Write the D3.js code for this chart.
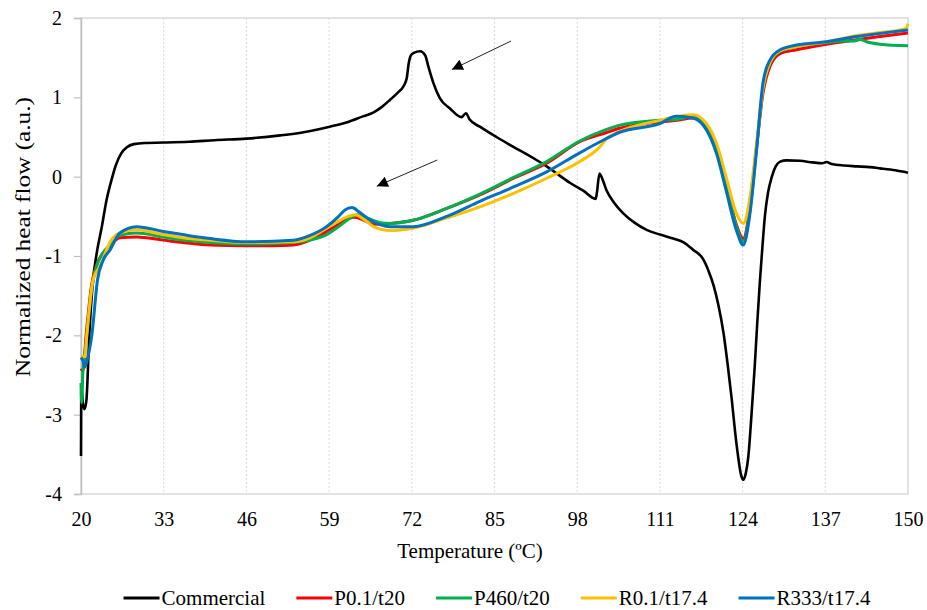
<!DOCTYPE html>
<html>
<head>
<meta charset="utf-8">
<script src="https://cdn.jsdelivr.net/npm/d3@7"></script>
<style>
  body { margin: 0; background: #fff; }
  svg text { font-family: "Liberation Serif", "Times New Roman", serif; fill: #000; }
</style>
</head>
<body>
<svg id="chart"></svg>
<script>
// x ticks and y ticks
const tempTicks = [20, 33, 46, 59, 72, 85, 98, 111, 124, 137, 150];
const flowTicks = [-4, -3, -2, -1, 0, 1, 2];

// [temperature, normalized heat flow]
const commercial = [[20.0,-3.52],[20.05,-2.65],[20.3,-2.86],[20.55,-2.93],[20.85,-2.82],[21.3,-2.0],[21.9,-1.3],[22.5,-0.95],[23.3,-0.62],[24.0,-0.3],[24.8,-0.04],[25.5,0.15],[26.3,0.29],[27.2,0.37],[28.3,0.41],[30,0.425],[33,0.43],[37,0.44],[41,0.46],[46,0.48],[51.3,0.52],[55,0.56],[59.1,0.63],[62,0.69],[64.3,0.76],[66,0.81],[67.3,0.88],[68.6,0.97],[69.8,1.06],[70.7,1.14],[71.2,1.24],[71.5,1.42],[71.8,1.52],[72.3,1.56],[73.3,1.58],[74.1,1.53],[74.6,1.39],[75.4,1.18],[76.4,0.99],[78,0.86],[79.8,0.75],[80.5,0.80],[81.1,0.72],[82.7,0.63],[85.3,0.50],[87.9,0.38],[91.6,0.21],[93.2,0.13],[96.9,-0.08],[99,-0.18],[100.9,-0.28],[101.1,-0.2],[101.5,0.04],[101.8,0.0],[102.6,-0.17],[103.8,-0.33],[105.2,-0.46],[107,-0.58],[108.9,-0.67],[111,-0.73],[113.1,-0.78],[114.8,-0.83],[116.2,-0.92],[117.8,-1.04],[118.7,-1.2],[119.4,-1.36],[120.2,-1.62],[121.0,-1.97],[121.7,-2.4],[122.3,-2.81],[122.8,-3.2],[123.3,-3.53],[123.7,-3.74],[124.1,-3.82],[124.5,-3.74],[124.9,-3.53],[125.4,-3.0],[125.9,-2.4],[126.3,-1.85],[126.7,-1.34],[127.1,-0.9],[127.5,-0.5],[128,-0.2],[128.6,0.0],[129.2,0.13],[129.9,0.19],[130.9,0.205],[133,0.2],[135,0.18],[136.5,0.17],[137.2,0.185],[138,0.16],[140,0.14],[142,0.13],[144,0.12],[145.6,0.105],[148,0.08],[150,0.05]];

const p01t20 = [[20,-2.42],[20.3,-2.45],[20.8,-2.0],[21.7,-1.35],[22.5,-1.1],[23.3,-0.98],[24.6,-0.86],[26.1,-0.77],[28.7,-0.76],[32.9,-0.80],[36,-0.83],[40.3,-0.86],[46,-0.87],[50,-0.87],[53.4,-0.86],[56,-0.80],[58.6,-0.69],[60.5,-0.6],[62,-0.53],[63.1,-0.51],[64.5,-0.55],[66,-0.6],[68.6,-0.59],[72.2,-0.55],[77.5,-0.40],[82.7,-0.23],[88,-0.02],[93.2,0.17],[98.4,0.44],[102.4,0.55],[104.7,0.61],[111,0.69],[113.6,0.71],[116.2,0.74],[118.3,0.62],[119.9,0.36],[121.4,-0.08],[123,-0.6],[124.1,-0.78],[125.1,-0.42],[126.2,0.38],[127.2,1.05],[128.3,1.39],[129.9,1.55],[132.5,1.60],[137.2,1.67],[141.4,1.72],[145,1.76],[150,1.81]];

const p460t20 = [[20,-2.6],[20.1,-2.85],[20.3,-2.45],[20.8,-2.1],[21.7,-1.4],[22.5,-1.12],[23.3,-0.98],[24.6,-0.87],[26.1,-0.74],[28.7,-0.71],[32.9,-0.76],[36,-0.8],[40.3,-0.83],[46,-0.85],[53.4,-0.83],[56,-0.8],[58.6,-0.73],[60.5,-0.63],[62,-0.54],[63.5,-0.48],[65,-0.52],[67,-0.58],[68.6,-0.59],[72.2,-0.55],[77.5,-0.40],[82.7,-0.22],[88,-0.01],[93.2,0.19],[98.4,0.45],[102.4,0.59],[104.7,0.65],[111,0.71],[113.6,0.72],[116.2,0.76],[118.3,0.63],[119.9,0.36],[121.4,-0.1],[123,-0.62],[124.1,-0.82],[125.1,-0.45],[126.2,0.36],[127.2,1.1],[128.3,1.43],[129.9,1.58],[132.5,1.64],[137.2,1.69],[140,1.71],[141.4,1.71],[142.5,1.73],[143.5,1.70],[145.6,1.67],[150,1.65]];

const r01t174 = [[20,-2.27],[20.6,-2.27],[20.9,-2.0],[21.9,-1.3],[23,-1.13],[24.6,-0.82],[26.1,-0.71],[28.7,-0.67],[32.9,-0.73],[36,-0.77],[40.3,-0.80],[46,-0.83],[53.4,-0.82],[56,-0.77],[58.6,-0.65],[60.5,-0.56],[62,-0.5],[63.1,-0.48],[64.5,-0.54],[66,-0.63],[68.6,-0.68],[72.2,-0.65],[77.5,-0.52],[82.7,-0.38],[88,-0.21],[93.2,-0.02],[98.4,0.19],[101.6,0.38],[102.4,0.46],[104.7,0.57],[111,0.71],[113.6,0.76],[116.2,0.78],[118.3,0.67],[119.9,0.42],[121.4,0.0],[123,-0.46],[124.1,-0.59],[125.1,-0.29],[126.2,0.42],[127.2,1.12],[128.3,1.44],[129.9,1.59],[132.5,1.64],[137.2,1.70],[141.4,1.77],[145,1.81],[149.7,1.87],[150,1.93]];

const r333t174 = [[20,-2.28],[20.3,-2.32],[20.6,-2.4],[21,-2.3],[21.7,-2.0],[22.6,-1.3],[23.5,-1.05],[24.6,-0.92],[26.1,-0.71],[28.7,-0.63],[32.9,-0.69],[36,-0.73],[40.3,-0.78],[46,-0.82],[53.4,-0.80],[56,-0.74],[58.6,-0.63],[60.5,-0.5],[61.5,-0.42],[62.6,-0.39],[63.8,-0.45],[65.5,-0.55],[68.6,-0.63],[72.2,-0.63],[77.5,-0.50],[82.7,-0.31],[88,-0.13],[93.2,0.06],[98.4,0.30],[101.6,0.44],[104.7,0.56],[111,0.67],[113.6,0.76],[116.2,0.74],[118.3,0.59],[119.9,0.29],[121.4,-0.17],[123,-0.67],[124.1,-0.86],[125.1,-0.50],[126.2,0.34],[127.2,1.18],[128.3,1.47],[129.9,1.60],[132.5,1.66],[137.2,1.70],[141.4,1.76],[145,1.80],[150,1.85]];

const seriesNames = ["Commercial", "P0.1/t20", "P460/t20", "R0.1/t17.4", "R333/t17.4"];
const seriesColors = ["#000000", "#ff0000", "#00b050", "#ffc000", "#0070c0"];
const seriesData = [commercial, p01t20, p460t20, r01t174, r333t174];

// annotation arrows, [from, to] in data units
const arrows = [
  [[87.6, 1.71], [78.3, 1.35]],
  [[76.0, 0.21], [66.5, -0.12]]
];

const W = 927, H = 610;
const margin = {top: 18, right: 19, bottom: 116, left: 81};
const width = W - margin.left - margin.right;
const height = H - margin.top - margin.bottom;

const svg = d3.select('#chart').attr('width', W).attr('height', H);
const chart = svg.append('g').attr('transform', `translate(${margin.left},${margin.top})`);

const x = d3.scaleLinear().domain([20, 150]).range([0, width]);
const y = d3.scaleLinear().domain([-4, 2]).range([height, 0]);

// vertical dotted gridlines
chart.append('g')
  .selectAll('line')
  .data(tempTicks.slice(1, -1))
  .join('line')
    .attr('x1', d => x(d)).attr('x2', d => x(d))
    .attr('y1', 0).attr('y2', height)
    .attr('stroke', '#d9d9d9')
    .attr('stroke-width', 1)
    .attr('stroke-dasharray', '2,2');

// plot border
chart.append('rect')
  .attr('width', width).attr('height', height)
  .attr('fill', 'none')
  .attr('stroke', '#d9d9d9')
  .attr('stroke-width', 1.5);

// axes
chart.append('g')
  .attr('transform', `translate(0,${height})`)
  .call(d3.axisBottom(x).tickValues(tempTicks).tickSize(0).tickPadding(18))
  .call(g => g.select('.domain').remove())
  .call(g => g.selectAll('text').attr('font-size', 20).attr('fill', '#000'));

chart.append('g')
  .call(d3.axisLeft(y).tickValues(flowTicks).tickSize(7).tickPadding(12).tickFormat(d => String(d)))
  .call(g => g.select('.domain').attr('stroke', '#bfbfbf').attr('stroke-width', 1.5))
  .call(g => g.selectAll('.tick line').attr('stroke', '#bfbfbf').attr('stroke-width', 1.2))
  .call(g => g.selectAll('text').attr('font-size', 20).attr('fill', '#000'));

// series lines
const line = d3.line()
  .x(d => x(d[0]))
  .y(d => y(d[1]))
  .curve(d3.curveMonotoneX);

chart.append('g')
  .selectAll('path')
  .data(seriesData)
  .join('path')
    .attr('d', line)
    .attr('fill', 'none')
    .attr('stroke', (d, i) => seriesColors[i])
    .attr('stroke-width', (d, i) => i === 0 ? 2.6 : 3)
    .attr('stroke-linejoin', 'round');

// arrows
svg.append('defs').append('marker')
  .attr('id', 'head')
  .attr('viewBox', '0 0 10 10')
  .attr('refX', 10).attr('refY', 5)
  .attr('markerWidth', 14).attr('markerHeight', 11)
  .attr('markerUnits', 'userSpaceOnUse')
  .attr('orient', 'auto')
  .append('path')
    .attr('d', 'M0,0 L10,5 L0,10 Z')
    .attr('fill', '#000');

chart.append('g')
  .selectAll('line')
  .data(arrows)
  .join('line')
    .attr('x1', d => x(d[0][0])).attr('y1', d => y(d[0][1]))
    .attr('x2', d => x(d[1][0])).attr('y2', d => y(d[1][1]))
    .attr('stroke', '#222')
    .attr('stroke-width', 1)
    .attr('marker-end', 'url(#head)');

// axis titles
svg.append('text')
  .attr('x', 470).attr('y', 558)
  .attr('text-anchor', 'middle')
  .attr('font-size', 21)
  .text('Temperature (ºC)');

svg.append('text')
  .attr('transform', 'translate(30,237) rotate(-90)')
  .attr('text-anchor', 'middle')
  .attr('font-size', 21)
  .attr('textLength', 280)
  .attr('lengthAdjust', 'spacingAndGlyphs')
  .text('Normalized heat flow (a.u.)');

// legend
const legend = svg.append('g').attr('transform', 'translate(0,598)');
const items = legend.selectAll('g')
  .data(seriesNames)
  .join('g');
items.append('line')
  .attr('x1', 0).attr('x2', 36)
  .attr('stroke', (d, i) => seriesColors[i])
  .attr('stroke-width', 3);
items.append('text')
  .attr('x', 38).attr('y', 7)
  .attr('font-size', 21)
  .text(d => d);

let widths = [];
items.each(function() { widths.push(38 + d3.select(this).select('text').node().getComputedTextLength()); });
const gap = 31;
const total = d3.sum(widths) + gap * (widths.length - 1);
let pos = 497 - total / 2;
items.each(function(d, i) {
  d3.select(this).attr('transform', `translate(${pos},0)`);
  pos += widths[i] + gap;
});
</script>
</body>
</html>
